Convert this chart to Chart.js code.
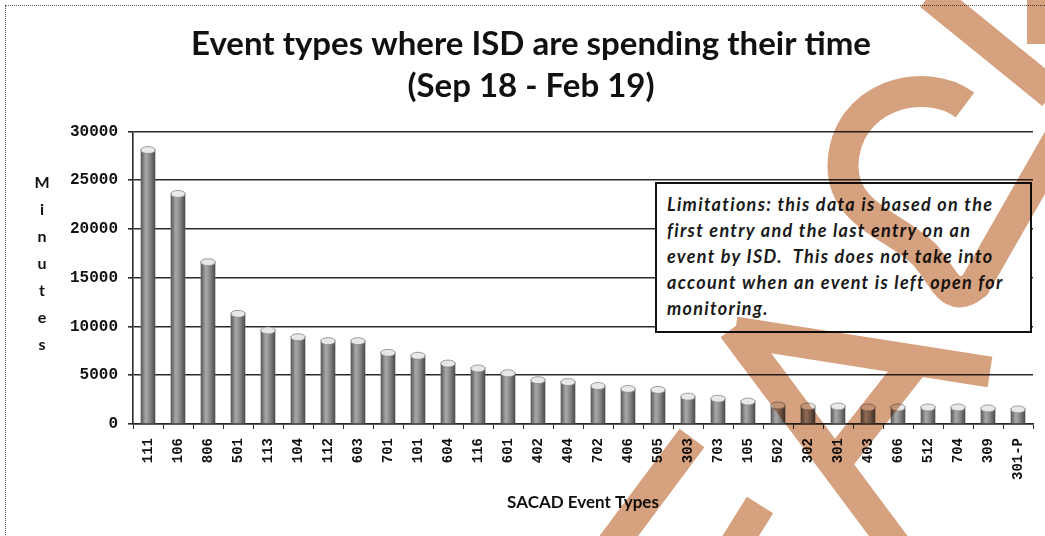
<!DOCTYPE html>
<html>
<head>
<meta charset="utf-8">
<script src="https://cdn.jsdelivr.net/npm/chart.js@4"></script>
<style>
  html, body { margin: 0; padding: 0; background: #fff; }
  #page { position: relative; width: 1045px; height: 536px; overflow: hidden; background: #fff; }
  #frame { position: absolute; left: 5px; top: 5px; width: 1100px; height: 600px; border: 1px dotted #555; }
  #c { position: absolute; left: 0; top: 0; }
  #ytitle {
    position: absolute; left: 32px; top: 168px; width: 20px; text-align: center;
    font: bold 16px Lato, sans-serif; line-height: 27px; color: #111;
  }
  #note {
    position: absolute; left: 655px; top: 182px; width: 373px; height: 147px;
    border: 2px solid #111; background: #fff; box-sizing: content-box;
    padding: 0; font: italic bold 18px Lato, sans-serif; letter-spacing: 1.3px;
    line-height: 26px; color: #1a1a1a;
  }
  #note div { position: absolute; left: 10px; top: 7px; white-space: nowrap; }
  #mark { position: absolute; left: 0; top: 0; mix-blend-mode: multiply; pointer-events: none; }
</style>
</head>
<body>
<div id="page">
  <div id="frame"></div>
  <canvas id="c" width="1045" height="536"></canvas>
  <div id="ytitle">M<br>i<br>n<br>u<br>t<br>e<br>s</div>
  <div id="note"><div>Limitations: this data is based on the<br>first entry and the last entry on an<br>event by ISD.&nbsp; This does not take into<br>account when an event is left open for<br>monitoring.</div></div>
  <svg id="mark" width="1045" height="536" fill="none" stroke="#d6a17f" stroke-width="31">
    <path d="M 930 -5 L 1052 94"/>
    <path d="M 1040 -10 L 1040 44" stroke-width="26"/>
    <path d="M 965 105 C 925 75, 845 95, 843 165 C 842 215, 895 225, 925 255 C 945 278, 950 305, 975 285 L 1058 140"/>
    <path d="M 735 332 L 990 372"/>
    <path d="M 733 328 L 895 545"/>
    <path d="M 915 362 L 830 470"/>
    <path d="M 760 505 L 735 545"/>
    <path d="M 692 438 L 612 545"/>
  </svg>
</div>
<script>
// SACAD event types, minutes spent by ISD (Sep 18 - Feb 19)
const eventTypes = ['111', '106', '806', '501', '113', '104', '112', '603', '701', '101',
  '604', '116', '601', '402', '404', '702', '406', '505', '303', '703',
  '105', '502', '302', '301', '403', '606', '512', '704', '309', '301-P'];
const minutes = [28200, 23700, 16700, 11400, 9700, 9000, 8600, 8600, 7400, 7100,
  6300, 5800, 5300, 4600, 4400, 4000, 3700, 3600, 2900, 2700,
  2400, 2000, 1900, 1900, 1800, 1800, 1800, 1800, 1700, 1600];
const titleLines = ['Event types where ISD are spending their time', '(Sep 18 - Feb 19)'];

const gridColor = '#2a2a2a';

// shade each bar like a cylinder, with a light cap on top
const cylinderBars = {
  id: 'cylinderBars',
  afterDatasetsDraw(chart) {
    const ctx = chart.ctx;
    const meta = chart.getDatasetMeta(0);
    ctx.save();
    meta.data.forEach(bar => {
      const w = bar.width, x0 = bar.x - w / 2;
      const g = ctx.createLinearGradient(x0, 0, x0 + w, 0);
      g.addColorStop(0, '#555');
      g.addColorStop(0.35, '#aaa');
      g.addColorStop(0.65, '#858585');
      g.addColorStop(1, '#484848');
      ctx.fillStyle = g;
      ctx.fillRect(x0, bar.y, w, bar.base - bar.y);
      ctx.beginPath();
      ctx.ellipse(bar.x, bar.y + 1, w / 2, 3.5, 0, 0, Math.PI * 2);
      ctx.fillStyle = '#e8e8e8';
      ctx.fill();
      ctx.strokeStyle = '#888';
      ctx.lineWidth = 0.8;
      ctx.stroke();
    });
    ctx.restore();
  }
};

new Chart(document.getElementById('c'), {
  type: 'bar',
  data: {
    labels: eventTypes,
    datasets: [{
      data: minutes,
      backgroundColor: '#8a8a8a',
      barPercentage: 0.48,
      categoryPercentage: 1
    }]
  },
  options: {
    responsive: false,
    animation: false,
    layout: { padding: { left: 29, right: 12, top: 0, bottom: 0 } },
    plugins: {
      legend: { display: false },
      tooltip: { enabled: false },
      title: {
        display: true,
        text: titleLines,
        color: '#111',
        font: { family: 'Lato', size: 33, weight: 'bold', lineHeight: 1.25 },
        padding: { top: 24, bottom: 25 }
      }
    },
    scales: {
      x: {
        afterFit(scale) { scale.height = 112; },
        grid: { drawOnChartArea: false, color: gridColor, tickLength: 5, lineWidth: 1 },
        border: { display: true, color: gridColor, width: 1.5 },
        ticks: {
          minRotation: 90, maxRotation: 90, autoSkip: false, padding: 9,
          color: '#111', font: { family: 'Liberation Mono', size: 14, weight: 'bold' }
        },
        title: {
          display: true, text: 'SACAD Event Types', color: '#111',
          font: { family: 'Lato', size: 17, weight: 'bold', lineHeight: 1.2 },
          padding: { top: 0, bottom: 23 }
        }
      },
      y: {
        min: 0, max: 30000,
        afterFit(scale) { scale.width = 104; },
        grid: { color: gridColor, lineWidth: 1.6, tickLength: 5 },
        border: { display: true, color: gridColor, width: 1.6 },
        ticks: {
          stepSize: 5000, padding: 10, color: '#111',
          font: { family: 'Liberation Mono', size: 16, weight: 'bold' },
          callback: v => String(v)
        }
      }
    }
  },
  plugins: [cylinderBars]
});
</script>
</body>
</html>
